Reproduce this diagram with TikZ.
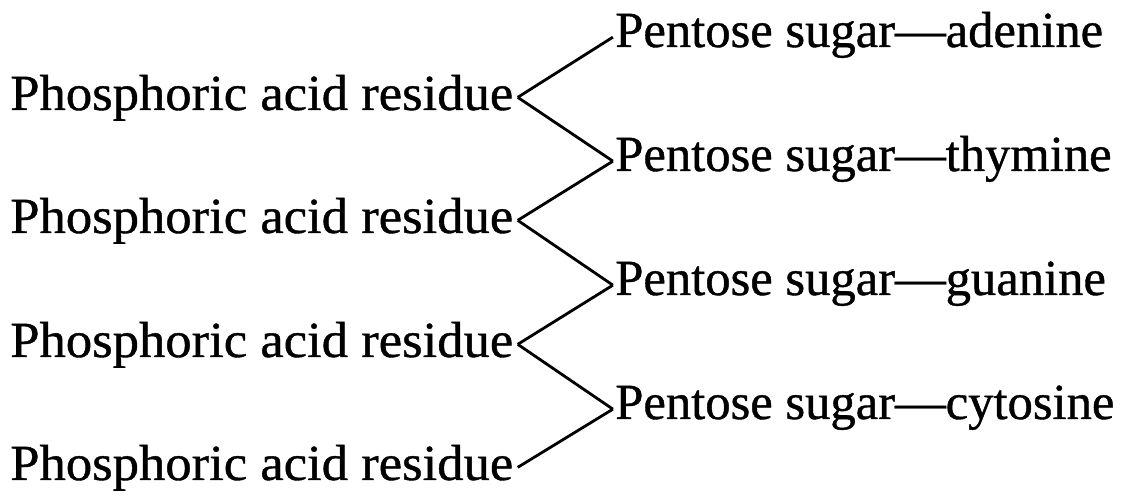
\documentclass[tikz,border=0pt]{standalone}
\usepackage{fontspec}
\setmainfont[FakeBold=0.8]{Liberation Serif}
\usetikzlibrary{positioning}

\begin{document}
\begin{tikzpicture}[
    x=0.025cm, y=-0.025cm,
    residue/.style={inner sep=0pt, anchor=base west, font=\fontsize{36}{40}\selectfont\addfontfeature{FakeStretch=1.04}},
    sugar/.style={inner sep=0pt, anchor=base west, font=\fontsize{36}{40}\selectfont},
    link/.style={line width=2pt, color=black},
]
\useasboundingbox (0,0) rectangle (1125,497);

% Phosphoric acid residues
\node[residue] (acid1) at (10,110) {Phosphoric acid residue};
\node[residue] (acid2) at (10,233) {Phosphoric acid residue};
\node[residue] (acid3) at (10,357) {Phosphoric acid residue};
\node[residue] (acid4) at (10,480) {Phosphoric acid residue};

% Sugars with bases
\node[sugar] (sugar1) at (615,47) {Pentose sugar—adenine};
\node[sugar] (sugar2) at (615,171) {Pentose sugar—thymine};
\node[sugar] (sugar3) at (615,295) {Pentose sugar—guanine};
\node[sugar] (sugar4) at (615,419) {Pentose sugar—cytosine};

% Links
\draw[link] ([shift={(3pt,9pt)}]acid1.base east) -- ([shift={(-1.5pt,7pt)}]sugar1.base west);
\draw[link] ([shift={(3pt,9pt)}]acid1.base east) -- ([shift={(-1.5pt,7pt)}]sugar2.base west);
\draw[link] ([shift={(3pt,9pt)}]acid2.base east) -- ([shift={(-1.5pt,7pt)}]sugar2.base west);
\draw[link] ([shift={(3pt,9pt)}]acid2.base east) -- ([shift={(-1.5pt,7pt)}]sugar3.base west);
\draw[link] ([shift={(3pt,9pt)}]acid3.base east) -- ([shift={(-1.5pt,7pt)}]sugar3.base west);
\draw[link] ([shift={(3pt,9pt)}]acid3.base east) -- ([shift={(-1.5pt,7pt)}]sugar4.base west);
\draw[link] ([shift={(3pt,9pt)}]acid4.base east) -- ([shift={(-1.5pt,7pt)}]sugar4.base west);

\end{tikzpicture}
\end{document}
